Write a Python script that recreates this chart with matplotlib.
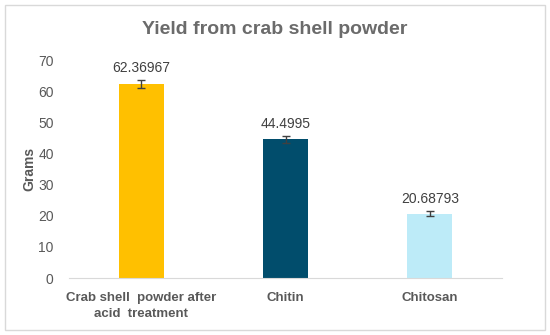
import matplotlib
matplotlib.use("Agg")
import matplotlib.pyplot as plt
from matplotlib.patches import Rectangle

categories = ["Crab shell  powder after\nacid  treatment", "Chitin", "Chitosan"]
values = [62.36967, 44.4995, 20.68793]
errors = [1.3, 1.2, 0.8]
value_labels = ["62.36967", "44.4995", "20.68793"]
colors = ["#FFC000", "#014D6C", "#BDEBF8"]
yticks = [0, 10, 20, 30, 40, 50, 60, 70]

plt.rcParams['font.family'] = ['Liberation Sans', 'DejaVu Sans']
fig = plt.figure(figsize=(5.5, 3.35), dpi=100)
fig.patch.set_facecolor("white")
fig.patches.append(Rectangle((5/550, 5/335), 540/550, 325/335, transform=fig.transFigure,
                             fill=False, edgecolor="#D9D9D9", linewidth=1))

ax = fig.add_axes([69/550, 1 - 278/335, 433/550, 218/335])
x = range(len(categories))
ax.bar(x, values, width=0.31, color=colors, zorder=2)
ax.errorbar(x, values, yerr=errors, fmt="none", ecolor="#404040", elinewidth=1, capsize=3, capthick=1, zorder=3)
for xi, v, e, lab in zip(x, values, errors, value_labels):
    ax.text(xi, v + e + 1.5, lab, ha="center", va="bottom", fontsize=10, color="#404040")

ax.set_xlim(-0.5, 2.5)
ax.set_ylim(0, 70)
ax.set_yticks(yticks)
ax.set_yticklabels([str(t) for t in yticks], fontsize=10, color="#595959")
ax.set_xticks(list(x))
ax.set_xticklabels(categories, fontsize=9.5, fontweight="bold", color="#595959", linespacing=1.45)
ax.tick_params(axis="x", length=0, pad=10)
ax.tick_params(axis="y", length=0, pad=11)
for s in ["top", "right", "left"]:
    ax.spines[s].set_visible(False)
ax.spines["bottom"].set_color("#D9D9D9")
ax.set_ylabel("Grams", fontsize=10, fontweight="bold", color="#595959")
ax.yaxis.set_label_coords(-33/433, 0.5)
fig.text(0.5, 1 - 30/335, "Yield from crab shell powder", ha="center", va="center",
         fontsize=14, fontweight="bold", color="#6B6B6B")
fig.savefig("out.png", dpi=100)
